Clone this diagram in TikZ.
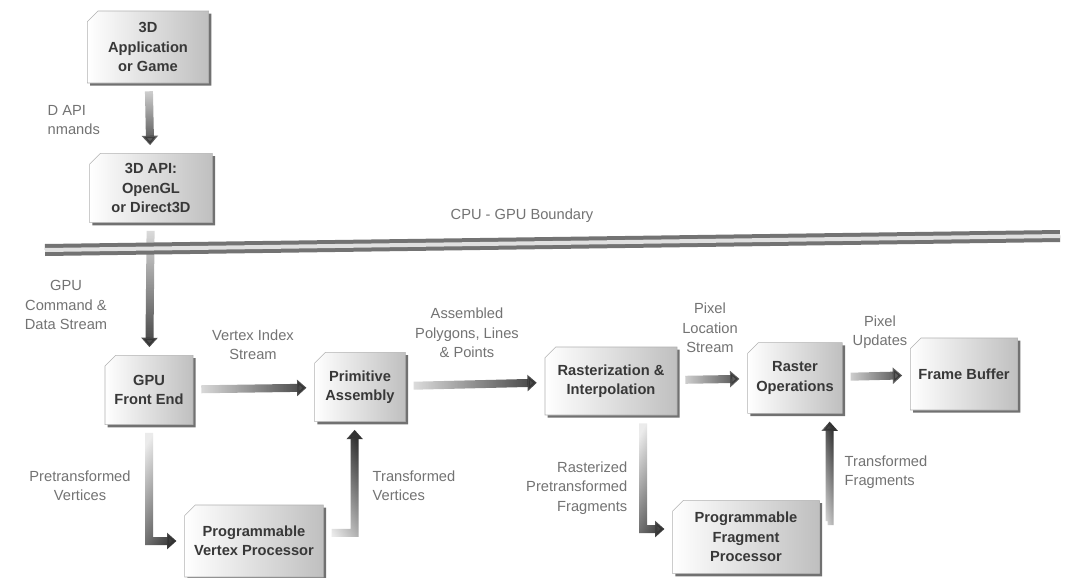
\documentclass[tikz,border=0pt]{standalone}
\usepackage{fontspec}
\setmainfont{Liberation Sans}
\usetikzlibrary{arrows.meta,shapes.misc,shadows,fadings}
\tikzfading[name=fadeon,left color=transparent!90,right color=transparent!0]
\tikzset{
  box/.style={chamfered rectangle,chamfered rectangle corners=north west,
    chamfered rectangle xsep=4pt,chamfered rectangle ysep=4pt,inner sep=2pt,
    align=center,font=\fontsize{11}{14.5}\selectfont\bfseries,text=black!78,
    left color=white,middle color=white,right color=black!25,draw=black!30,line width=0.4pt,
    drop shadow={shadow xshift=2pt,shadow yshift=-2pt,fill=black!65,opacity=0.85}},
  lab/.style={align=center,font=\fontsize{11}{14.5}\selectfont,text=black!55},
  arr/.style={line width=6pt,black!80,-{Triangle[width=12pt,length=7pt]},
    shorten <=6pt,shorten >=6pt,path fading=fadeon},
}
\begin{document}
\begin{tikzpicture}[x=0.75pt,y=-0.75pt]
  \useasboundingbox[fill=white] (0,0) rectangle (1068,578);
  % boxes
  \node[box,minimum width=91pt,minimum height=54pt] (app) at (148,47) {3D\\Application\\or Game};
  \node[box,minimum width=92pt,minimum height=52pt] (api) at (151,188) {3D API:\\OpenGL\\or Direct3D};
  \node[box,minimum width=66pt,minimum height=52pt] (fe) at (149,390) {GPU\\Front End};
  \node[box,minimum width=68pt,minimum height=52pt] (pa) at (360,387) {Primitive\\Assembly};
  \node[box,minimum width=99pt,minimum height=51pt] (ri) at (611,381) {Rasterization \&\\Interpolation};
  \node[box,minimum width=71pt,minimum height=53pt] (rop) at (795,378) {Raster\\Operations};
  \node[box,minimum width=71pt,minimum height=54pt] (fb) at (964,374) {Frame Buffer};
  \node[box,minimum width=104pt,minimum height=54pt] (vp) at (254,541) {Programmable\\Vertex Processor};
  \node[box,minimum width=110pt,minimum height=55pt] (fp) at (746,537) {Programmable\\Fragment\\Processor};
  % arrows
  \draw[arr,fading angle=-90] (app) -- (api);
  \draw[arr,fading angle=-90] (api) -- (fe);
  \draw[arr] (fe) -- (pa);
  \draw[arr] (pa) -- (ri);
  \draw[arr] (ri) -- (rop);
  \draw[arr] (rop) -- (fb);
  \draw[arr,fading angle=-60] (fe.south) |- (vp.west);
  \draw[arr,fading angle=60] ([yshift=6pt]vp.east) -| ([xshift=-4pt]pa.south);
  \draw[arr,fading angle=-60] ([xshift=24pt]ri.south) |- ([yshift=6pt]fp.west);
  \draw[arr,fading angle=60] ([yshift=12pt]fp.east) -| ([xshift=26pt]rop.south);
  % cpu / gpu boundary
  \coordinate (bl) at (45,250);
  \coordinate (br) at (1060,236);
  \draw[black!55,line width=3pt,double=black!12,double distance=3pt] (bl) -- (br);
  \node[lab] (bnd) at (522,216) {CPU - GPU Boundary};
  % labels
  \node[lab,align=left,anchor=west] (cmd) at (43,120) {D API\\nmands};
  \node[lab] (stream) at (66,305) {GPU\\Command \&\\Data Stream};
  \node[lab] (vis) at (253,345) {Vertex Index\\Stream};
  \node[lab] (apl) at (467,333) {Assembled\\Polygons, Lines\\\& Points};
  \node[lab] (pls) at (710,328) {Pixel\\Location\\Stream};
  \node[lab] (pu) at (880,332) {Pixel\\Updates};
  \node[lab] (ptv) at (80,486) {Pretransformed\\Vertices};
  \node[lab,align=left,anchor=west] (tv) at (368,486) {Transformed\\Vertices};
  \node[lab,align=right,anchor=east] (rpf) at (632,488) {Rasterized\\Pretransformed\\Fragments};
  \node[lab,align=left,anchor=west] (tf) at (840,472) {Transformed\\Fragments};
\end{tikzpicture}
\end{document}
